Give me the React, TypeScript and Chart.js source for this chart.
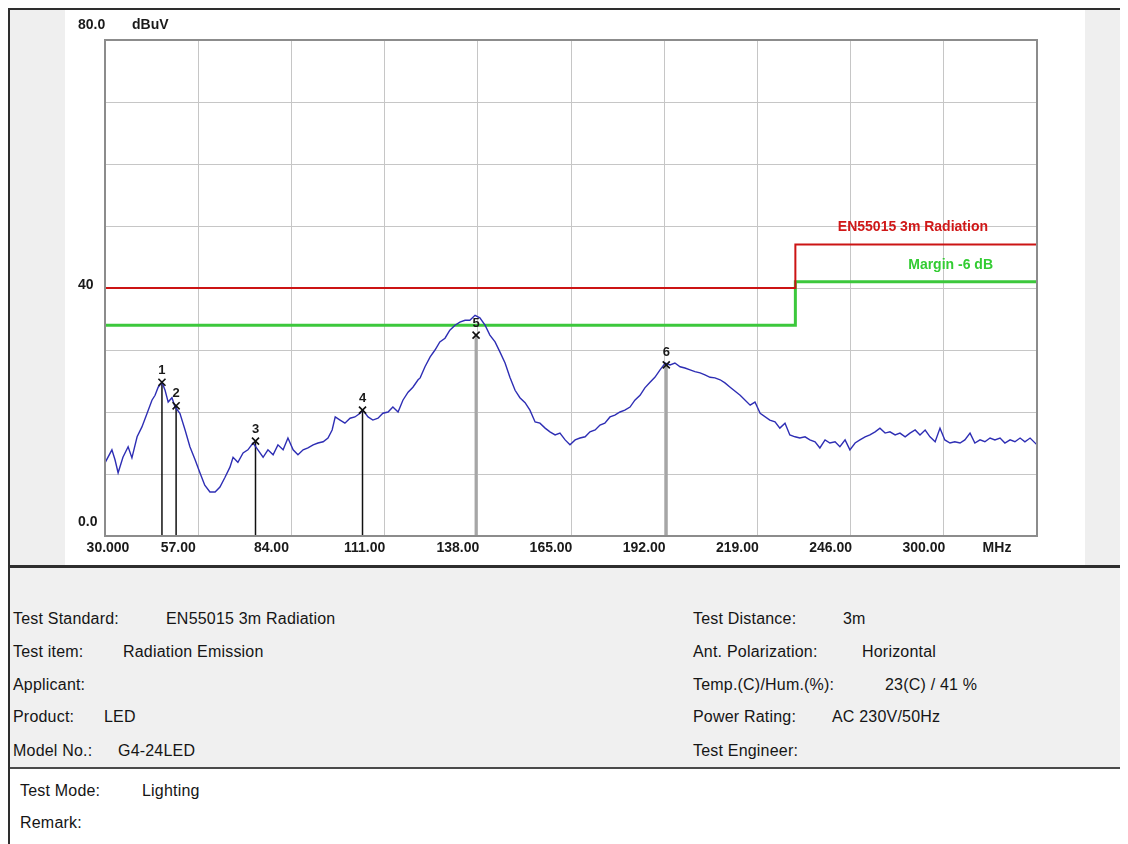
import React, { useEffect, useRef } from "react";
import { Chart, registerables } from "chart.js";

Chart.register(...registerables);

// ---------- data ----------
const TRACE_FREQ = [
  30.0, 32.0, 32.9, 33.8, 35.2, 36.7, 37.8, 39.3, 40.7, 42.2, 43.6, 44.5, 45.4, 46.5, 47.4, 48.3, 49.4, 50.3,
  51.7, 53.2, 54.6, 56.1, 57.5, 58.9, 60.4, 61.9, 63.3, 64.7, 66.2, 67.1, 68.5, 70.0, 71.4, 72.9, 74.3, 75.8,
  77.2, 78.7, 80.1, 81.6, 83.0, 84.5, 85.9, 87.4, 88.8, 90.3, 91.7, 93.2, 94.6, 95.8, 96.7, 98.1, 99.5, 101.0,
  102.4, 103.9, 104.7, 106.2, 107.6, 109.1, 110.5, 112.0, 113.4, 114.9, 116.3, 117.8, 119.2, 120.7, 121.3,
  122.7, 124.2, 125.6, 127.0, 128.5, 129.9, 131.4, 132.8, 134.3, 135.7, 137.2, 138.6, 140.1, 141.5, 143.0,
  144.4, 145.9, 147.3, 148.8, 150.2, 151.7, 153.1, 154.6, 156.0, 157.5, 158.9, 160.4, 161.8, 163.3, 164.7,
  166.2, 167.6, 169.1, 170.5, 172.0, 173.4, 174.8, 176.3, 177.7, 179.2, 180.6, 182.1, 183.5, 185.0, 186.4,
  187.9, 189.3, 190.8, 192.3, 193.7, 195.1, 196.6, 198.0, 199.5, 200.9, 202.4, 203.8, 205.3, 206.7, 208.2,
  209.6, 211.1, 214.0, 216.9, 218.3, 219.8, 222.6, 224.1, 225.5, 227.0, 228.4, 229.9, 231.3, 232.8, 234.2,
  235.7, 237.1, 238.6, 240.0, 241.5, 242.9, 244.4, 245.8, 247.3, 248.7, 250.2, 251.6, 253.1, 254.5, 256.0,
  257.4, 258.9, 260.3, 261.8, 263.2, 264.7, 266.1, 267.6, 269.0, 270.5, 271.9, 273.3, 274.8, 276.2, 277.7,
  279.1, 280.6, 282.0, 283.5, 284.9, 286.4, 287.8, 289.3, 290.7, 292.2, 293.6, 295.1, 296.5, 298.0, 300.0,
];
const TRACE_LEVEL = [
  11.8, 13.9, 12.3, 10.2, 12.7, 14.4, 12.6, 16.0, 17.6, 19.8, 21.9, 22.7, 24.0, 24.8, 23.5, 21.6, 22.3, 20.8,
  19.8, 17.1, 14.4, 12.3, 10.2, 8.2, 7.1, 7.1, 7.9, 9.4, 11.1, 12.7, 11.9, 13.4, 13.9, 15.0, 13.9, 12.7,
  13.9, 13.1, 14.7, 13.9, 15.8, 13.9, 13.1, 13.9, 14.2, 14.7, 15.0, 15.2, 15.8, 17.1, 19.2, 18.7, 18.2, 19.0,
  19.2, 19.8, 20.3, 19.2, 18.7, 19.0, 19.8, 20.0, 20.8, 20.0, 21.9, 23.2, 24.0, 25.2, 25.5,
  27.3, 28.9, 30.0, 31.3, 31.9, 33.2, 34.0, 34.5, 34.8, 34.8, 35.6, 35.2, 34.0, 32.4, 31.3,
  29.7, 27.9, 25.6, 23.5, 22.3, 21.5, 20.3, 18.4, 18.2, 17.4, 16.8, 16.3, 16.6, 15.5, 14.7,
  15.5, 15.8, 16.0, 16.8, 17.1, 17.9, 18.2, 19.2, 19.5, 20.0, 20.3, 20.8, 21.9, 22.7, 23.9,
  24.8, 25.6, 26.8, 27.9, 27.6, 27.9, 27.3, 27.1, 26.8, 26.5, 26.3, 26.0, 25.6, 25.5, 25.2,
  24.7, 24.0, 22.7, 21.1, 21.6, 19.8, 18.7, 18.4, 17.4, 18.2, 16.3, 16.0, 15.8, 16.0, 15.5,
  15.2, 14.2, 15.5, 15.0, 15.2, 14.4, 15.5, 13.9, 15.0, 15.5, 16.0, 16.3, 16.8, 17.4, 16.6,
  16.8, 16.3, 16.6, 16.0, 16.6, 17.1, 16.3, 17.1, 16.0, 15.2, 17.4, 15.5, 15.0, 15.2, 15.0,
  15.5, 16.6, 15.0, 15.5, 15.2, 15.8, 15.5, 15.8, 15.0, 15.5, 15.2, 15.8, 15.2, 15.8, 14.7,
];

const LIMIT_FREQ = [30, 230, 230, 300];
const LIMIT_LEVEL = [40, 40, 47, 47];
const MARGIN_LEVEL = [34, 34, 41, 41];
const LIMIT_NAME = "EN55015 3m Radiation";
const MARGIN_NAME = "Margin -6 dB";

const MARKER_NAMES = ["1", "2", "3", "4", "5", "6"];
const MARKER_FREQ = [46.5, 50.6, 73.6, 104.6, 137.5, 192.6];
const MARKER_LEVEL = [24.8, 21.0, 15.3, 20.3, 32.4, 27.6];

const X_TICK_VALUES = [30, 57, 84, 111, 138, 165, 192, 219, 246, 273, 300];
const X_TICK_LABELS = ["30.000", "57.00", "84.00", "111.00", "138.00", "165.00", "192.00", "219.00", "246.00", "300.00", "MHz"];
const Y_LABEL_VALUES = [80, 40, 0];
const Y_LABELS = ["80.0", "40", "0.0"];
const Y_UNIT = "dBuV";

const INFO_LEFT_LABELS = ["Test Standard:", "Test item:", "Applicant:", "Product:", "Model No.:"];
const INFO_LEFT_VALUES = ["EN55015 3m Radiation", "Radiation Emission", "", "LED", "G4-24LED"];
const INFO_RIGHT_LABELS = ["Test Distance:", "Ant. Polarization:", "Temp.(C)/Hum.(%):", "Power Rating:", "Test Engineer:"];
const INFO_RIGHT_VALUES = ["3m", "Horizontal", "23(C) / 41 %", "AC 230V/50Hz", ""];
const FOOT_LABELS = ["Test Mode:", "Remark:"];
const FOOT_VALUES = ["Lighting", ""];

// ---------- layout (page coordinates, wrapper starts at 8,8) ----------
const ROW_Y = [619, 652, 685, 717, 751];
const LEFT_VALUE_X = [166, 123, 0, 104, 118];
const RIGHT_VALUE_X = [843, 862, 885, 832, 0];
const FOOT_Y = [791, 823];
const FOOT_VALUE_X = [142, 0];

const FONT = '"Liberation Sans", Arial, sans-serif';

const overlay = {
  id: "overlay",
  beforeDatasetsDraw(chart: any) {
    const { ctx, chartArea: a, scales } = chart;
    const x = scales.x, y = scales.y;
    ctx.save();
    MARKER_FREQ.forEach((f, i) => {
      const px = x.getPixelForValue(f);
      const py = y.getPixelForValue(MARKER_LEVEL[i]);
      ctx.strokeStyle = i >= 4 ? "#a6a6a6" : "#111";
      ctx.lineWidth = i >= 4 ? 3 : 1.5;
      ctx.beginPath();
      ctx.moveTo(px, py);
      ctx.lineTo(px, a.bottom);
      ctx.stroke();
    });
    ctx.restore();
  },
  afterDraw(chart: any) {
    const { ctx, chartArea: a, scales } = chart;
    const x = scales.x, y = scales.y;
    ctx.save();
    // plot frame
    ctx.strokeStyle = "#8c8c8c";
    ctx.lineWidth = 2;
    ctx.strokeRect(a.left, a.top, a.right - a.left, a.bottom - a.top);

    ctx.fillStyle = "#1a1a1a";
    ctx.font = `bold 14px ${FONT}`;
    ctx.textBaseline = "middle";
    // x labels
    X_TICK_VALUES.forEach((v, i) => {
      const off = i === 0 ? 3 : i === X_TICK_VALUES.length - 1 ? -40 : -20;
      ctx.textAlign = "center";
      ctx.fillText(X_TICK_LABELS[i], x.getPixelForValue(v) + off, a.bottom + 12);
    });
    // y labels
    ctx.textAlign = "left";
    Y_LABEL_VALUES.forEach((v, i) => {
      let py = y.getPixelForValue(v);
      if (i === 0) py -= 15;
      else if (i === Y_LABEL_VALUES.length - 1) py -= 14;
      else py -= 3;
      ctx.fillText(Y_LABELS[i], a.left - 27, py);
    });
    ctx.fillText(Y_UNIT, a.left + 27, y.getPixelForValue(80) - 15);

    // marker numbers
    ctx.textAlign = "center";
    ctx.font = `bold 13px ${FONT}`;
    MARKER_FREQ.forEach((f, i) => {
      ctx.fillText(MARKER_NAMES[i], x.getPixelForValue(f), y.getPixelForValue(MARKER_LEVEL[i]) - 12);
    });

    // limit labels
    ctx.textAlign = "right";
    ctx.font = `bold 14px ${FONT}`;
    ctx.fillStyle = "#d01818";
    ctx.fillText(LIMIT_NAME, a.right - 49, y.getPixelForValue(LIMIT_LEVEL[3]) - 17);
    ctx.fillStyle = "#33cc33";
    ctx.fillText(MARGIN_NAME, a.right - 44, y.getPixelForValue(MARGIN_LEVEL[3]) - 17);
    ctx.restore();
  },
};

function EmiChart() {
  const ref = useRef<HTMLCanvasElement | null>(null);
  useEffect(() => {
    if (!ref.current) return;
    const chart = new Chart(ref.current, {
      type: "line",
      data: {
        datasets: [
          {
            data: MARKER_FREQ.map((f, i) => ({ x: f, y: MARKER_LEVEL[i] })),
            showLine: false,
            pointStyle: "crossRot",
            pointRadius: 5,
            pointBorderColor: "#111",
            pointBorderWidth: 1.6,
            borderColor: "#111",
          },
          {
            data: TRACE_FREQ.map((f, i) => ({ x: f, y: TRACE_LEVEL[i] })),
            borderColor: "#2e2eb4",
            borderWidth: 1.4,
            pointRadius: 0,
            tension: 0,
          },
          {
            data: LIMIT_FREQ.map((f, i) => ({ x: f, y: LIMIT_LEVEL[i] })),
            borderColor: "#cc1414",
            borderWidth: 2,
            pointRadius: 0,
          },
          {
            data: LIMIT_FREQ.map((f, i) => ({ x: f, y: MARGIN_LEVEL[i] })),
            borderColor: "#3cc83c",
            borderWidth: 3,
            pointRadius: 0,
          },
        ],
      } as any,
      options: {
        responsive: false,
        animation: false,
        layout: { padding: { left: 97, top: 32, right: 91, bottom: 30 } },
        plugins: { legend: { display: false }, tooltip: { enabled: false } },
        scales: {
          x: {
            type: "linear",
            min: 30,
            max: 300,
            ticks: { display: false },
            grid: { color: "#c6c6c6", lineWidth: 1, drawTicks: false },
            border: { display: false },
            afterBuildTicks: (s: any) => {
              s.ticks = X_TICK_VALUES.map((v) => ({ value: v }));
            },
            afterFit: (s: any) => {
              s.height = 0;
            },
          },
          y: {
            type: "linear",
            min: 0,
            max: 80,
            ticks: { display: false, stepSize: 10 },
            grid: { color: "#c6c6c6", lineWidth: 1, drawTicks: false },
            border: { display: false },
            afterFit: (s: any) => {
              s.width = 0;
            },
          },
        },
      } as any,
      plugins: [overlay],
    });
    return () => chart.destroy();
  }, []);
  return (
    <canvas
      ref={ref}
      width={1120}
      height={558}
      style={{ position: "absolute", left: 0, top: 0, width: 1120, height: 558 }}
    />
  );
}

const textStyle: React.CSSProperties = {
  position: "absolute",
  fontSize: 16,
  lineHeight: "18px",
  letterSpacing: "0.2px",
  color: "#151515",
  whiteSpace: "nowrap",
};

export default function App() {
  const abs = (x: number, y: number) => ({ left: x - 8, top: y - 8 - 9 });
  return (
    <div style={{ position: "relative", width: 1120, height: 836, overflow: "hidden", background: "#fff", fontFamily: FONT }}>
      <div style={{ position: "absolute", left: 2, top: 0, width: 1118, height: 558, background: "#efefef" }} />
      <div style={{ position: "absolute", left: 57, top: 2, width: 1020, height: 556, background: "#fff" }} />
      <EmiChart />
      <div style={{ position: "absolute", left: 0, top: 0, width: 1120, height: 2, background: "#2e2e2e" }} />
      <div style={{ position: "absolute", left: 0, top: 557, width: 1120, height: 3, background: "#2e2e2e" }} />
      <div style={{ position: "absolute", left: 2, top: 560, width: 1118, height: 199, background: "#f0f0f0" }} />
      <div style={{ position: "absolute", left: 0, top: 759, width: 1120, height: 2, background: "#4a4a4a" }} />
      <div style={{ position: "absolute", left: 0, top: 0, width: 2, height: 836, background: "#2e2e2e" }} />

      {INFO_LEFT_LABELS.map((t, i) => (
        <div key={"ll" + i} style={{ ...textStyle, ...abs(13, ROW_Y[i]) }}>{t}</div>
      ))}
      {INFO_LEFT_VALUES.map((t, i) =>
        t ? (
          <div key={"lv" + i} style={{ ...textStyle, ...abs(LEFT_VALUE_X[i], ROW_Y[i]) }}>{t}</div>
        ) : null
      )}
      {INFO_RIGHT_LABELS.map((t, i) => (
        <div key={"rl" + i} style={{ ...textStyle, ...abs(693, ROW_Y[i]) }}>{t}</div>
      ))}
      {INFO_RIGHT_VALUES.map((t, i) =>
        t ? (
          <div key={"rv" + i} style={{ ...textStyle, ...abs(RIGHT_VALUE_X[i], ROW_Y[i]) }}>{t}</div>
        ) : null
      )}
      {FOOT_LABELS.map((t, i) => (
        <div key={"fl" + i} style={{ ...textStyle, ...abs(20, FOOT_Y[i]) }}>{t}</div>
      ))}
      {FOOT_VALUES.map((t, i) =>
        t ? (
          <div key={"fv" + i} style={{ ...textStyle, ...abs(FOOT_VALUE_X[i], FOOT_Y[i]) }}>{t}</div>
        ) : null
      )}
    </div>
  );
}
